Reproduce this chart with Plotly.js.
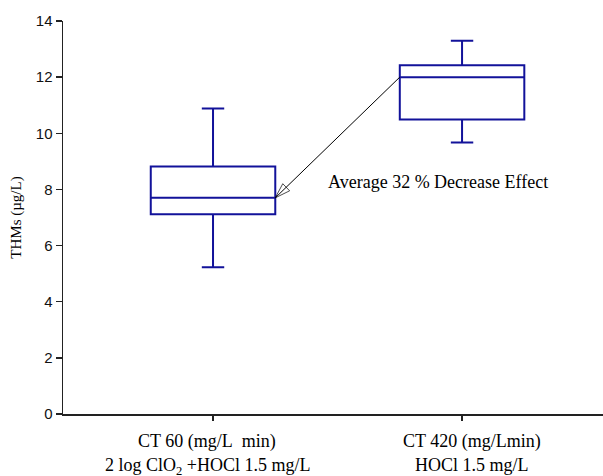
<!DOCTYPE html>
<html>
<head>
<meta charset="utf-8">
<script src="https://cdn.plot.ly/plotly-3.0.1.min.js"></script>
<style>
  html, body { margin: 0; padding: 0; background: #fff; }
  #chart { width: 603px; height: 476px; }
</style>
</head>
<body>
<div id="chart"></div>
<script>
// Treatment groups (numeric positions on the category axis)
const positions = [0, 1];
const labelLine1 = ['CT 60 (mg/L\u00a0\u00a0min)', 'CT 420 (mg/Lmin)'];
const labelLine2 = ['2 log ClO<sub>2</sub> +HOCl 1.5 mg/L', 'HOCl 1.5 mg/L'];
const labelShift = [-6, 10];

// THM box statistics (µg/L)
const lowerFence = [5.23, 9.67];
const q1 = [7.12, 10.49];
const median = [7.70, 12.00];
const q3 = [8.82, 12.42];
const upperFence = [10.88, 13.30];

const yTicks = [0, 2, 4, 6, 8, 10, 12, 14];

const boxColor = '#12129a';
const serif = 'Liberation Serif, Times New Roman, serif';
const sans = 'Liberation Sans, Arial, sans-serif';
const halfBox = 0.25;

const boxes = {
  type: 'box',
  x: positions,
  lowerfence: lowerFence,
  q1: q1,
  median: median,
  q3: q3,
  upperfence: upperFence,
  width: halfBox * 2,
  whiskerwidth: 0.18,
  fillcolor: 'rgba(0,0,0,0)',
  line: { color: boxColor, width: 2 },
  hoverinfo: 'skip',
  showlegend: false
};

// Arrow from the higher median (left edge of box 2) to the lower one (right edge of box 1)
const arrow = {
  type: 'scatter',
  mode: 'lines+markers',
  x: [positions[1] - halfBox, positions[0] + halfBox],
  y: [median[1], median[0]],
  line: { color: '#000', width: 1 },
  marker: {
    symbol: ['circle', 'arrow-open'],
    size: [0, 16],
    angleref: 'previous',
    color: '#000',
    line: { color: '#000', width: 1 }
  },
  cliponaxis: false,
  hoverinfo: 'skip',
  showlegend: false
};

const annotations = [];
positions.forEach((p, i) => {
  annotations.push({
    x: p, xref: 'x', y: 0, yref: 'paper',
    yanchor: 'top', xanchor: 'center', yshift: -15, xshift: labelShift[i],
    text: labelLine1[i], showarrow: false,
    font: { family: serif, size: 18, color: '#000' }
  });
  annotations.push({
    x: p, xref: 'x', y: 0, yref: 'paper',
    yanchor: 'top', xanchor: 'center', yshift: -39, xshift: labelShift[i],
    text: labelLine2[i], showarrow: false,
    font: { family: serif, size: 18, color: '#000' }
  });
});

annotations.push({
  x: 0.905, y: 8.25, xref: 'x', yref: 'y',
  text: 'Average 32 % Decrease Effect', showarrow: false,
  xanchor: 'center', yanchor: 'middle',
  font: { family: serif, size: 18, color: '#000' }
});

const layout = {
  width: 603, height: 476,
  margin: { l: 63, r: 0, t: 21, b: 62 },
  paper_bgcolor: '#fff', plot_bgcolor: '#fff',
  showlegend: false,
  xaxis: {
    range: [-0.6024, 1.566],
    tickvals: positions,
    showticklabels: false,
    ticks: 'outside', ticklen: 5, tickwidth: 1.5, tickcolor: '#222',
    showgrid: false, zeroline: false,
    showline: true, linecolor: '#222', linewidth: 1.5
  },
  yaxis: {
    range: [0, 14],
    tickvals: yTicks,
    ticks: 'outside', ticklen: 6, tickwidth: 1.5, tickcolor: '#222',
    tickfont: { family: sans, size: 15, color: '#111' },
    showgrid: false, zeroline: false,
    showline: true, linecolor: '#222', linewidth: 1.5,
    title: { text: 'THMs (µg/L)', font: { family: serif, size: 15, color: '#000' }, standoff: 10 }
  },
  annotations: annotations
};

Plotly.newPlot('chart', [boxes, arrow], layout, { displayModeBar: false, staticPlot: true });
</script>
</body>
</html>
